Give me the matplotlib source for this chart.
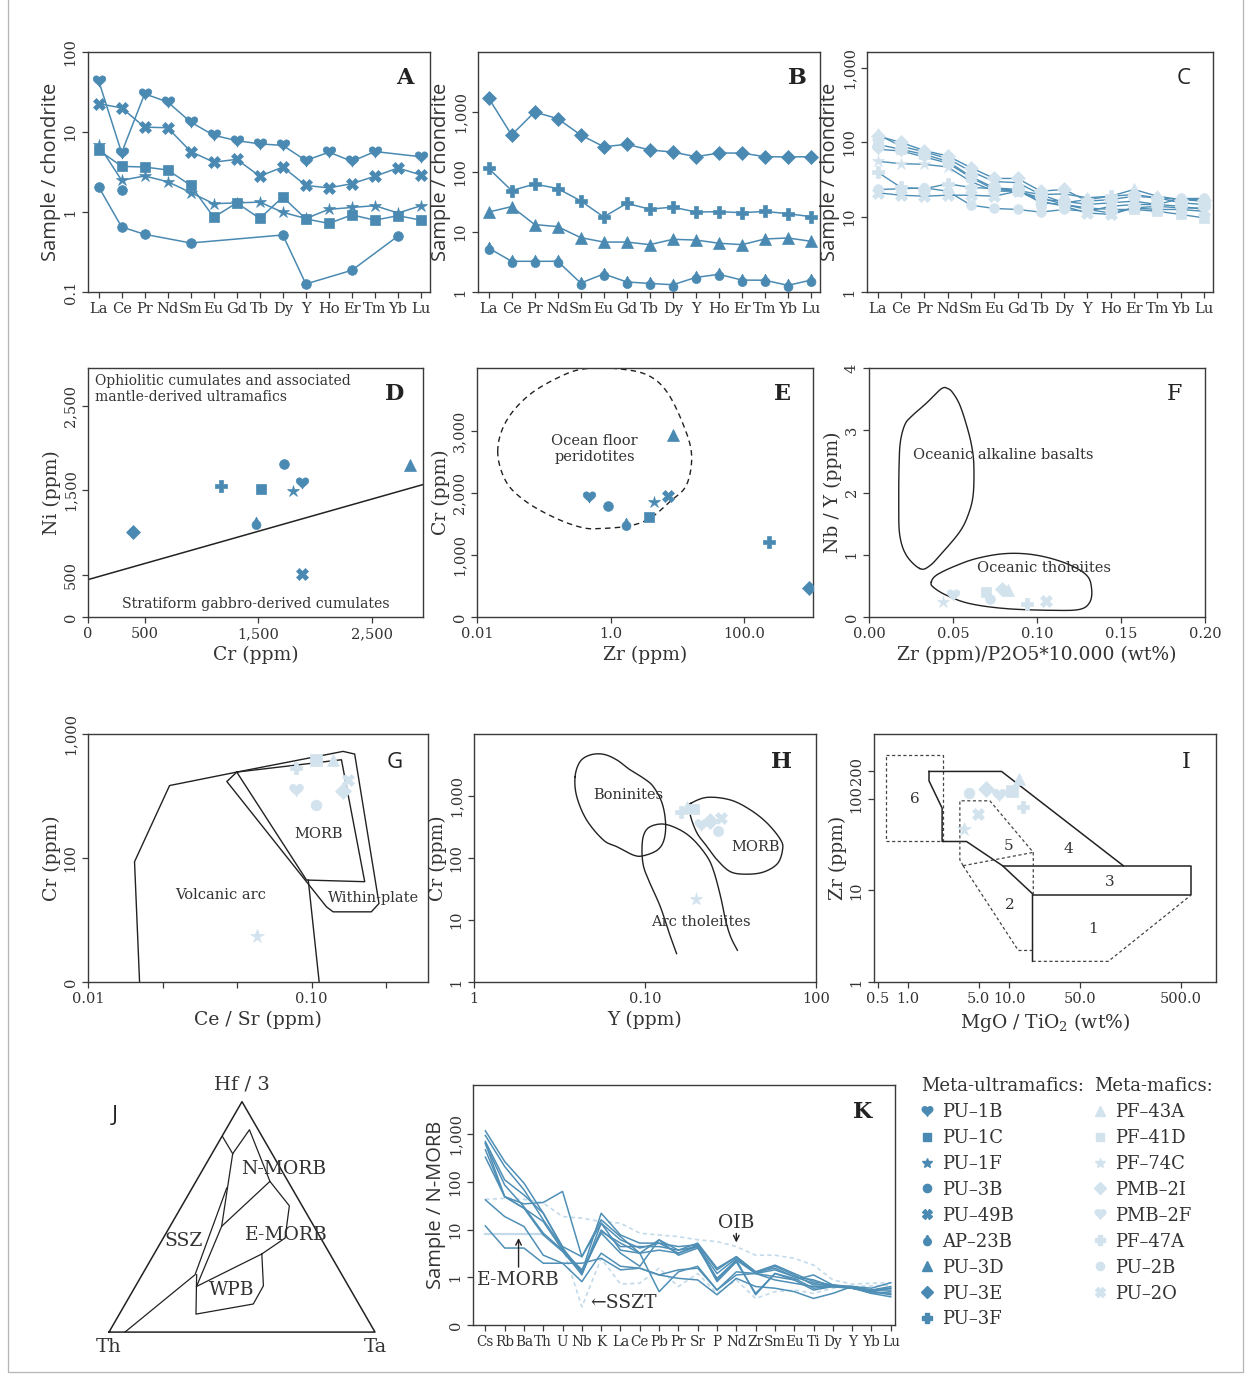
import numpy as np
import matplotlib
matplotlib.use('Agg')
import matplotlib.pyplot as plt
from matplotlib.lines import Line2D
from matplotlib.patches import Rectangle

nan = float('nan')

# ---------------- categories / names ----------------
REE = ['La', 'Ce', 'Pr', 'Nd', 'Sm', 'Eu', 'Gd', 'Tb', 'Dy', 'Y', 'Ho', 'Er', 'Tm', 'Yb', 'Lu']
SPIDER = ['Cs', 'Rb', 'Ba', 'Th', 'U', 'Nb', 'K', 'La', 'Ce', 'Pb', 'Pr', 'Sr', 'P', 'Nd',
          'Zr', 'Sm', 'Eu', 'Ti', 'Dy', 'Y', 'Yb', 'Lu']
UM_NAMES = ['PU–1B', 'PU–1C', 'PU–1F', 'PU–3B', 'PU–49B', 'AP–23B', 'PU–3D', 'PU–3E', 'PU–3F']
UM_MARKS = ['heart', 'square', 'star', 'circle', 'x', 'drop', 'triangle', 'diamond', 'plus']
MAF_NAMES = ['PF–43A', 'PF–41D', 'PF–74C', 'PMB–2I', 'PMB–2F', 'PF–47A', 'PU–2B', 'PU–2O']
MAF_MARKS = ['triangle', 'square', 'star', 'diamond', 'heart', 'plus', 'circle', 'x']

# ---------------- A: meta-ultramafics REE ----------------
A_PU1B = [44, 5.5, 30, 23.7, 13.3, 9.1, 7.8, 7.1, 6.8, 4.4, 5.6, 4.3, 5.7, nan, 4.9]
A_PU49B = [22.6, 20, 11.5, 11.3, 5.7, 4.2, 4.55, 2.8, 3.65, 2.15, 2.0, 2.26, 2.8, 3.55, 2.9]
A_PU1F = [6.9, 2.49, 2.82, 2.39, 1.75, 1.27, 1.30, 1.33, 0.99, 0.83, 1.08, 1.14, 1.2, 0.97, 1.2]
A_PU1C = [5.96, 3.72, 3.65, 3.35, 2.15, 0.86, 1.3, 0.83, 1.54, 0.82, 0.72, 0.92, 0.79, 0.9, 0.79]
A_PU3B = [2.07, 0.65, 0.526, nan, 0.41, nan, nan, nan, 0.516, 0.126, nan, 0.187, nan, 0.5, nan]
A_EXTRA = [nan, 1.87, nan, nan, nan, nan, nan, nan, nan, nan, nan, nan, nan, nan, nan]

# ---------------- B ----------------
B_PU3E = [1710, 414, 1000, 774, 414, 264, 289, 233, 215, 180, 207, 207, 180, 178, 180]
B_PU3F = [115, 49, 63, 53, 33, 17.8, 30, 24, 26, 21.5, 21.8, 21, 22, 20.2, 18]
B_PU3D = [21.5, 26.5, 13.3, 12.3, 8.05, 6.8, 6.8, 6.15, 7.55, 7.35, 6.5, 6.15, 7.65, 7.95, 7.0]
B_AP23B = [5.4, 3.25, 3.25, 3.25, 1.41, 2.0, 1.47, 1.39, 1.32, 1.75, 1.97, 1.58, 1.57, 1.29, 1.58]

# ---------------- C: meta-mafics REE ----------------
C_PF43A = [128, 89, 75, 61, 41, 30, 29, 20.1, 20.5, 18.2, 19.1, 23.5, 19.1, 17.2, 16.4]
C_PF41D = [94, 81, 69, 56, 35, 24.7, 23.5, 15.6, 14.8, 13.3, 12.7, 12.7, 12.0, 10.9, 9.8]
C_PF74C = [56, 52, 51, 47, 30, 22.3, 22.3, 17.2, 16.4, 14.8, 15.6, 16.4, 14.8, 14.0, 12.7]
C_PMB2I = [122, 100, 78, 66, 46, 33, 33, 22.3, 23.5, 16.4, 17.2, 19.1, 18.2, 17.2, 17.2]
C_PMB2F = [81, 77, 64, 53, 34, 23.5, 22.3, 18.2, 14.8, 12.7, 11.4, 13.3, 14.0, 13.3, 13.3]
C_PF47A = [40, 25, 24, 28, 25, 24.2, 22.8, 20.1, 15.6, 17.2, 19.1, 20.1, 18.2, 15.6, 14.8]
C_PU2B = [23.5, 24, 24.7, 22.3, 14.5, 13.1, 12.7, 11.7, 12.7, 12.0, 14.0, 14.8, 14.8, 17.8, 17.8]
C_PU2O = [21.2, 19.7, 19.1, 19.7, 19.7, 19.1, 22.3, 16.4, 14.0, 11.4, 10.9, 13.3, 12.7, 12.7, 12.0]

# ---------------- D: Cr vs Ni (ultramafics, UM order) ----------------
D_CR = [1888, 1521, 1806, 1726, 1888, 1476, 2835, 397, 1168]
D_NI = [1589, 1522, 1490, 1810, 506, 1115, 1806, 1008, 1549]
D_LINE_CR = [0, 2950]
D_LINE_NI = [443, 1569]

# ---------------- E: Zr vs Cr (ultramafics) ----------------
E_ZR = [0.48, 3.7, 4.4, 0.91, 7.1, 1.72, 8.4, 912, 229]
E_CR = [1943, 1608, 1862, 1797, 1959, 1495, 2941, 475, 1214]
E_FIELD_ZR = [0.0204, 0.0272, 0.061, 0.193, 0.431, 1.22, 3.43, 6.84, 12.2, 16.2, 13.6, 7.67,
              3.85, 1.93, 0.767, 0.385, 0.153, 0.0543, 0.0272]
E_FIELD_CR = [2671, 3157, 3589, 3902, 4010, 4010, 3913, 3643, 3103, 2617, 2132, 1862,
              1592, 1473, 1430, 1441, 1592, 1862, 2186]

# ---------------- F (mafics order) ----------------
F_X = [0.0828, 0.0699, 0.0441, 0.0789, 0.0500, 0.0942, 0.0719, 0.1053]
F_Y = [0.43, 0.403, 0.242, 0.456, 0.349, 0.215, 0.285, 0.252]
F_ALK_X = [0.0302, 0.0222, 0.0183, 0.0177, 0.0179, 0.0187, 0.0213, 0.0252, 0.0342, 0.0431,
           0.0471, 0.0500, 0.0540, 0.0580, 0.0610, 0.0624, 0.0620, 0.0590, 0.0540, 0.0441, 0.0361]
F_ALK_Y = [0.779, 0.993, 1.315, 1.799, 2.443, 2.819, 3.087, 3.221, 3.436, 3.667,
           3.667, 3.597, 3.409, 3.087, 2.765, 2.443, 1.960, 1.638, 1.369, 1.047, 0.821]
F_THO_X = [0.0371, 0.0401, 0.0500, 0.0640, 0.0818, 0.0997, 0.1176, 0.1295, 0.1325, 0.1315,
           0.1255, 0.1096, 0.0818, 0.0600, 0.0461, 0.0381]
F_THO_Y = [0.564, 0.671, 0.805, 0.940, 1.020, 0.993, 0.859, 0.671, 0.456, 0.242,
           0.123, 0.107, 0.134, 0.215, 0.349, 0.483]

# ---------------- G (mafics) ----------------
G_CESR = [0.1249, 0.1045, 0.0569, 0.1384, 0.0851, 0.0851, 0.1045, 0.146]
G_CR = [620, 620, 23.4, 348, 355, 531, 268, 428]
G_VA_X = [0.01701, 0.01615, 0.02317, 0.0463]
G_VA_Y = [10, 93.3, 384, 493]
G_WP_X = [0.0463, 0.1384, 0.156, 0.2004, 0.1852, 0.1249, 0.1166, 0.0418, 0.0463]
G_WP_Y = [493, 724, 689, 43.0, 36.8, 36.8, 40.4, 414, 493]
G_MORB_X = [0.0463, 0.1361, 0.173, 0.0950, 0.0463]
G_MORB_Y = [493, 620, 64.4, 66.4, 493]
G_VAR_X = [0.0967, 0.1082]
G_VAR_Y = [66.4, 10]

# ---------------- H (mafics) ----------------
H_Y = [17.7, 19.3, 19.8, 24.0, 21.3, 16.2, 26.7, 27.7]
H_CR = [671, 608, 21.7, 399, 340, 557, 275, 435]
H_BON_X = [3.90, 3.99, 4.56, 5.72, 6.85, 8.58, 9.82, 11.8, 12.9, 13.2, 12.6, 11.2, 9.82,
           8.20, 6.85, 5.72, 4.78, 4.17]
H_BON_Y = [2050, 975, 409, 194, 152, 111, 109, 134, 194, 361, 760, 1410, 1930,
           2630, 3810, 4710, 4590, 3580]
H_ARC_X = [15.3, 14.1, 12.3, 10.7, 9.82, 9.60, 9.82, 10.7, 12.9, 16.1, 19.3, 23.1, 25.3,
           27.7, 29.6, 31.7, 34.7]
H_ARC_Y = [2.87, 5.33, 16.3, 38.8, 72.1, 134, 234, 319, 352, 282, 194, 105, 59.8,
           23.6, 9.9, 5.33, 3.25]
H_MORB_X = [18.5, 23.1, 31.7, 41.5, 52.0, 62.3, 63.7, 59.6, 49.7, 39.7, 31.7, 26.5, 23.1,
            20.2, 18.5, 18.3]
H_MORB_Y = [760, 951, 861, 593, 361, 194, 134, 81.6, 59.8, 54.8, 59.8, 92.4, 152,
            249, 463, 671]

# ---------------- I (mafics) ----------------
I_MGTI = [12.5, 10.7, 3.59, 5.83, 7.9, 13.6, 3.99, 4.86]
I_ZR = [165, 123, 47, 129, 111, 80.4, 115, 68]
I_F6_X = [0.610, 2.22, 2.22, 0.610, 0.610]
I_F6_Y = [302, 302, 34.8, 34.8, 302]
I_F4_X = [1.61, 8.40, 134.5]
I_F4_Y = [199, 199, 18.6]
I_LEFT_X = [1.61, 1.61, 2.17, 2.17, 3.78, 8.59, 17.0, 17.0]
I_LEFT_Y = [199, 157, 79.1, 34.2, 34.2, 18.6, 9.20, 1.68]
I_F3_X = [8.59, 624, 624, 17.0]
I_F3_Y = [18.6, 18.6, 8.82, 8.82]
I_F1_X = [17.0, 95.5, 624]
I_F1_Y = [1.68, 1.68, 8.82]
I_F5_X = [3.50, 3.25, 3.25, 6.44, 17.3, 17.3]
I_F5_Y = [18.6, 21.6, 95.1, 95.1, 26.0, 8.97]
I_F52_X = [3.50, 17.3]
I_F52_Y = [18.6, 26.0]
I_F2_X = [3.50, 12.3, 17.0]
I_F2_Y = [18.6, 2.21, 2.21]

# ---------------- J ternary field lines (Th, Hf/3, Ta) ----------------
J_LINES = [
    [(0.149, 0.849, 0.002), (0.148, 0.774, 0.078)],
    [(0.148, 0.774, 0.078), (0.033, 0.878, 0.089), (0.068, 0.654, 0.278), (0.048, 0.548, 0.404),
     (0.134, 0.408, 0.458), (0.256, 0.339, 0.405)],
    [(0.148, 0.774, 0.078), (0.347, 0.459, 0.194)],
    [(0.068, 0.654, 0.278), (0.347, 0.459, 0.194), (0.572, 0.198, 0.230)],
    [(0.245, 0.625, 0.130), (0.552, 0.249, 0.199), (0.940, 0.0, 0.060)],
    [(0.572, 0.198, 0.230), (0.256, 0.339, 0.405)],
    [(0.256, 0.339, 0.405), (0.319, 0.201, 0.480), (0.397, 0.122, 0.482), (0.634, 0.078, 0.288),
     (0.546, 0.249, 0.205)],
]

# ---------------- K: N-MORB normalised spider (meta-mafics) ----------------
K_S1 = [1175, 267, 94, 22, 4.4, 2.7, 16, 7.1, 3.2, 6.1, 3.7, 5.2, 1.55, 2.7, 1.3, 1.8, 1.2, 0.81, 0.69, 0.64, 0.59, 0.77]
K_S2 = [938, 210, 68, 16, 4.1, 1.3, 22, 7.7, 5.2, 5.2, 4.4, 4.8, 1.43, 2.7, 1.3, 1.55, 1.03, 0.88, 0.64, 0.64, 0.54, 0.64]
K_S3 = [702, 110, 53, 22, 4.1, 1.2, 9.8, 4.4, 4.4, 4.4, 3.7, 4.4, 1.2, 2.5, 1.2, 1.7, 1.12, 0.69, 0.69, 0.59, 0.50, 0.59]
K_S4 = [627, 86, 30, 8.4, 3.7, 1.12, 13.6, 6.1, 4.1, 5.2, 3.2, 4.8, 0.88, 2.3, 1.2, 1.43, 1.03, 0.75, 0.64, 0.59, 0.54, 0.54]
K_S5 = [469, 49, 28, 7.7, 3.45, 1.2, 9.1, 5.2, 3.2, 3.7, 3.2, 4.4, 0.81, 2.1, 0.46, 1.2, 0.95, 0.59, 0.64, 0.59, 0.46, 0.50]
K_S6 = [329, 49, 28, 14.7, 3.7, 1.43, 8.4, 3.2, 1.7, 6.1, 2.9, 4.1, 0.95, 2.3, 0.43, 1.2, 0.88, 0.54, 0.64, 0.64, 0.50, 0.46]
K_S7 = [647, 49, 34.5, 37, 63, 2.7, 13.6, 3.7, 3.2, 0.50, 1.3, 1.7, 0.54, 1.12, 1.2, 1.03, 0.88, 1.12, 0.69, 0.59, 0.54, 0.59]
K_S8 = [42, 18.7, 11.6, 2.9, 1.97, 0.81, 3.2, 1.7, 1.55, 1.12, 0.95, 0.88, 0.43, 0.95, 0.64, 0.59, 0.50, 0.36, 0.46, 0.64, 0.46, 0.39]
K_S9 = [11.9, 4.1, 4.1, 1.97, 1.97, 1.97, 2.5, 1.43, 1.55, 1.12, 1.43, 1.55, 0.54, 1.3, 1.2, 0.88, 0.75, 0.64, 0.64, 0.59, 0.50, 0.43]
K_OIB = [43, 45, 43, 36, 18.7, 17.3, 14.7, 13.6, 8.4, 7.7, 7.1, 6.1, 5.6, 4.4, 2.9, 2.9, 2.5, 1.8, 0.88, 0.72, 0.75, 0.77]
K_EMORB = [8.1, 8.1, 8.1, 8.1, nan, nan, nan, nan, nan, nan, nan, nan, nan, nan, nan, nan, nan, nan, nan, nan, nan, nan]
K_SSZT = [nan, nan, nan, nan, 4.4, 0.24, 2.5, 0.72, 0.75, 1.55, 0.64, 1.2, 0.46, 0.88, 0.36, 0.50, 0.54, 0.46, 0.59, 0.64, 0.66, 0.69]

# ---------------- styling ----------------
W, H = 1250, 1376
DARK = '#4a8ab2'
LIGHT = '#d3e3ee'
LINEC = '#4f8fb6'
REFC = '#c3daea'
INK = '#333333'
SERIF = 'DejaVu Serif'
SANS = 'Open Sans'

plt.rcParams['font.family'] = [SERIF, 'DejaVu Sans']
plt.rcParams['mathtext.fontset'] = 'dejavuserif'
plt.rcParams['text.color'] = INK
plt.rcParams['axes.labelcolor'] = INK

_t = np.linspace(0, 2 * np.pi, 60)
HEART = list(zip(16 * np.sin(_t) ** 3,
                 13 * np.cos(_t) - 5 * np.cos(2 * _t) - 2 * np.cos(3 * _t) - np.cos(4 * _t) + 2.5))
_a = np.deg2rad(np.linspace(60, -240, 40))
DROP = [(0, 1.75)] + list(zip(np.cos(_a), np.sin(_a))) + [(0, 1.75)]
DROP = [(x, y - 0.35) for x, y in DROP]

MK = {'heart': HEART, 'square': 's', 'star': '*', 'circle': 'o', 'x': 'X',
      'drop': DROP, 'triangle': '^', 'diamond': 'D', 'plus': 'P'}
MS = {'heart': 9, 'square': 7.5, 'star': 9, 'circle': 7, 'x': 8, 'drop': 9,
      'triangle': 8.5, 'diamond': 7.5, 'plus': 8.5}

fig = plt.figure(figsize=(W / 100, H / 100), dpi=100)
fig.patch.set_facecolor('white')
fig.add_artist(Rectangle((8 / W, 4 / H), (1243 - 8) / W, 1.2, transform=fig.transFigure,
                         fill=False, edgecolor='#b5b5b5', lw=0.9))


def pos(l, t, r, b):
    return [l / W, 1 - b / H, (r - l) / W, (b - t) / H]


def style(ax, fs=10.5):
    for s in ax.spines.values():
        s.set_color('#3a3a3a')
        s.set_linewidth(1.0)
    ax.tick_params(direction='out', length=4, width=0.9, color='#3a3a3a',
                   labelcolor=INK, labelsize=fs)
    ax.minorticks_off()


def yrot(ax):
    for lb in ax.get_yticklabels():
        lb.set_rotation(90)
        lb.set_va('center')
        lb.set_ha('right')


def letter(ax, s, x, y, bold=True, fam=SERIF):
    ax.text(x, y, s, transform=ax.transAxes, ha='center', va='center', fontsize=16,
            fontweight='bold' if bold else 'normal', family=fam, color='#222222')


def catmull(px, py, closed=True, n=16):
    P = np.column_stack([px, py]).astype(float)
    if closed:
        P = np.vstack([P[-1], P, P[0], P[1]])
    else:
        P = np.vstack([P[0], P, P[-1]])
    out = []
    t = np.linspace(0, 1, n, endpoint=False)[:, None]
    for i in range(1, len(P) - 2):
        p0, p1, p2, p3 = P[i - 1], P[i], P[i + 1], P[i + 2]
        seg = 0.5 * ((2 * p1) + (-p0 + p2) * t + (2 * p0 - 5 * p1 + 4 * p2 - p3) * t ** 2
                     + (-p0 + 3 * p1 - 3 * p2 + p3) * t ** 3)
        out.append(seg)
    out.append(P[-2][None])
    return np.vstack(out)


def marker_plot(ax, x, y, m, color, scale=1.0, z=3):
    ax.plot(x, y, ls='none', marker=MK[m], ms=MS[m] * scale, mfc=color, mec=color,
            mew=0.5, zorder=z)


def ree_panel(ax, series, marks, lc, mc, lw=1.1):
    x = np.arange(len(REE))
    for vals, m in zip(series, marks):
        v = np.array(vals, float)
        ok = ~np.isnan(v)
        ax.plot(x[ok], v[ok], color=lc, lw=lw, zorder=2)
    for vals, m in zip(series, marks):
        v = np.array(vals, float)
        ok = ~np.isnan(v)
        marker_plot(ax, x[ok], v[ok], m, mc)
    ax.set_yscale('log')
    ax.set_xlim(-0.46, 14.39)
    ax.set_xticks(x, REE)
    style(ax)
    ax.set_ylabel('Sample / chondrite', family=SANS, fontsize=14.5, labelpad=2)


# ---------- A ----------
axA = fig.add_axes(pos(88, 52, 430, 292))
ree_panel(axA, [A_PU1B, A_PU49B, A_PU1F, A_PU1C, A_PU3B],
          ['heart', 'x', 'star', 'square', 'circle'], DARK, DARK)
marker_plot(axA, np.arange(len(REE)), A_EXTRA, 'circle', DARK)
axA.set_ylim(0.1, 100)
axA.set_yticks([0.1, 1, 10, 100], ['0.1', '1', '10', '100'])
yrot(axA)
letter(axA, 'A', 0.927, 0.89)

# ---------- B ----------
axB = fig.add_axes(pos(478, 52, 820, 292))
ree_panel(axB, [B_PU3E, B_PU3F, B_PU3D, B_AP23B],
          ['diamond', 'plus', 'triangle', 'drop'], DARK, DARK)
axB.set_ylim(1, 10000)
axB.set_yticks([1, 10, 100, 1000], ['1', '10', '100', '1,000'])
axB.minorticks_off()
yrot(axB)
letter(axB, 'B', 0.933, 0.89)

# ---------- C ----------
axC = fig.add_axes(pos(867, 52, 1213, 292))
ree_panel(axC, [C_PF43A, C_PF41D, C_PF74C, C_PMB2I, C_PMB2F, C_PF47A, C_PU2B, C_PU2O],
          MAF_MARKS, LINEC, LIGHT, lw=1.0)
axC.set_ylim(1, 1620)
axC.set_yticks([1, 10, 100, 1000], ['1', '10', '100', '1,000'])
axC.minorticks_off()
yrot(axC)
letter(axC, 'C', 0.916, 0.89, bold=False, fam=SANS)

# ---------- D ----------
axD = fig.add_axes(pos(88, 368, 423, 617))
axD.plot(D_LINE_CR, D_LINE_NI, color='#222222', lw=1.1)
for xv, yv, m in zip(D_CR, D_NI, UM_MARKS):
    marker_plot(axD, [xv], [yv], m, DARK)
axD.set_xlim(0, 2950)
axD.set_ylim(0, 2950)
style(axD)
axD.set_xticks([0, 500, 1500, 2500], ['0', '500', '1,500', '2,500'])
axD.set_yticks([0, 500, 1500, 2500], ['0', '500', '1,500', '2,500'])
yrot(axD)
axD.set_xlabel('Cr (ppm)', fontsize=13.5, labelpad=3)
axD.set_ylabel('Ni (ppm)', fontsize=13.5, labelpad=2)
axD.text(0.02, 0.975, 'Ophiolitic cumulates and associated\nmantle-derived ultramafics',
         transform=axD.transAxes, ha='left', va='top', fontsize=10, linespacing=1.15)
axD.text(0.5, 0.052, 'Stratiform gabbro-derived cumulates', transform=axD.transAxes,
         ha='center', va='center', fontsize=10.2)
letter(axD, 'D', 0.916, 0.895)

# ---------- E ----------
axE = fig.add_axes(pos(477, 368, 813, 617))
axE.set_xscale('log')
lx = np.log10(E_FIELD_ZR)
cur = catmull(lx, E_FIELD_CR, closed=True)
axE.plot(10 ** cur[:, 0], cur[:, 1], color='#222222', lw=1.0, ls=(0, (4, 3)))
for xv, yv, m in zip(E_ZR, E_CR, UM_MARKS):
    marker_plot(axE, [xv], [yv], m, DARK)
axE.set_xlim(0.01, 1060)
axE.set_ylim(0, 4020)
style(axE)
axE.set_xticks([0.01, 1, 100], ['0.01', '1.0', '100.0'])
axE.set_yticks([0, 1000, 2000, 3000], ['0', '1,000', '2,000', '3,000'])
axE.minorticks_off()
yrot(axE)
axE.set_xlabel('Zr (ppm)', fontsize=13.5, labelpad=3)
axE.set_ylabel('Cr (ppm)', fontsize=13.5, labelpad=2)
axE.text(0.575, 2715, 'Ocean floor\nperidotites', ha='center', va='center', fontsize=10.5,
         linespacing=1.2)
letter(axE, 'E', 0.91, 0.895)

# ---------- F ----------
axF = fig.add_axes(pos(869, 368, 1205, 617))
c1 = catmull(F_ALK_X, F_ALK_Y)
c2 = catmull(F_THO_X, F_THO_Y)
axF.plot(c1[:, 0], c1[:, 1], color='#222222', lw=1.0)
axF.plot(c2[:, 0], c2[:, 1], color='#222222', lw=1.0)
for xv, yv, m in zip(F_X, F_Y, MAF_MARKS):
    marker_plot(axF, [xv], [yv], m, LIGHT)
axF.set_xlim(0, 0.2)
axF.set_ylim(0, 4)
style(axF)
axF.set_xticks([0, 0.05, 0.1, 0.15, 0.2], ['0.00', '0.05', '0.10', '0.15', '0.20'])
axF.set_yticks([0, 1, 2, 3, 4], ['0', '1', '2', '3', '4'])
yrot(axF)
axF.set_xlabel('Zr (ppm)/P2O5*10.000 (wt%)', fontsize=13.5, labelpad=3)
axF.set_ylabel('Nb / Y (ppm)', fontsize=13.5, labelpad=2)
axF.text(0.0262, 2.6, 'Oceanic alkaline basalts', ha='left', va='center', fontsize=10.5)
axF.text(0.064, 0.78, 'Oceanic tholeiites', ha='left', va='center', fontsize=10.5)
letter(axF, 'F', 0.91, 0.895, bold=False)

# ---------- G ----------
axG = fig.add_axes(pos(88, 734, 428, 982))
axG.set_xscale('log')
axG.set_yscale('log')
for xs, ys in [(G_VA_X, G_VA_Y), (G_WP_X, G_WP_Y), (G_MORB_X, G_MORB_Y), (G_VAR_X, G_VAR_Y)]:
    axG.plot(xs, ys, color='#222222', lw=1.0)
for xv, yv, m in zip(G_CESR, G_CR, MAF_MARKS):
    marker_plot(axG, [xv], [yv], m, LIGHT, scale=1.1)
axG.set_xlim(0.01, 0.332)
axG.set_ylim(10, 1000)
style(axG)
axG.set_xticks([0.01, 10 ** (-5 / 3), 10 ** (-4 / 3), 0.1, 10 ** (-2 / 3)],
               ['0.01', '', '', '0.10', ''])
axG.set_yticks([10, 100, 1000], ['0', '100', '1,000'])
axG.minorticks_off()
yrot(axG)
axG.set_xlabel('Ce / Sr (ppm)', fontsize=13.5, labelpad=3)
axG.set_ylabel('Cr (ppm)', fontsize=13.5, labelpad=2)
axG.text(0.107, 156, 'MORB', ha='center', va='center', fontsize=10.5)
axG.text(0.039, 50, 'Volcanic arc', ha='center', va='center', fontsize=10.5)
axG.text(0.19, 48, 'Within-plate', ha='center', va='center', fontsize=10.5)
letter(axG, 'G', 0.903, 0.887, bold=False, fam=SANS)

# ---------- H ----------
axH = fig.add_axes(pos(474, 734, 816, 982))
axH.set_xscale('log')
axH.set_yscale('log')
for xs, ys, cl in [(H_BON_X, H_BON_Y, True), (H_MORB_X, H_MORB_Y, True), (H_ARC_X, H_ARC_Y, False)]:
    cc = catmull(np.log10(xs), np.log10(ys), closed=cl)
    axH.plot(10 ** cc[:, 0], 10 ** cc[:, 1], color='#222222', lw=1.0)
for xv, yv, m in zip(H_Y, H_CR, MAF_MARKS):
    marker_plot(axH, [xv], [yv], m, LIGHT, scale=1.05)
axH.set_xlim(1, 100)
axH.set_ylim(1, 10000)
style(axH)
axH.set_xticks([1, 10, 100], ['1', '0.10', '100'])
axH.set_yticks([1, 10, 100, 1000], ['1', '10', '100', '1,000'])
axH.minorticks_off()
yrot(axH)
axH.set_xlabel('Y (ppm)', fontsize=13.5, labelpad=3)
axH.set_ylabel('Cr (ppm)', fontsize=13.5, labelpad=2)
axH.text(8.0, 1040, 'Boninites', ha='center', va='center', fontsize=10.5)
axH.text(44.4, 148, 'MORB', ha='center', va='center', fontsize=10.5)
axH.text(21.1, 9.3, 'Arc tholeiites', ha='center', va='center', fontsize=10.5)
letter(axH, 'H', 0.90, 0.887)

# ---------- I ----------
axI = fig.add_axes(pos(874, 734, 1216, 982))
axI.set_xscale('log')
axI.set_yscale('log')
for xs, ys, ls in [(I_F6_X, I_F6_Y, ':'), (I_F4_X, I_F4_Y, '-'), (I_LEFT_X, I_LEFT_Y, '-'),
                   (I_F3_X, I_F3_Y, '-'), (I_F1_X, I_F1_Y, ':'), (I_F5_X, I_F5_Y, ':'),
                   (I_F52_X, I_F52_Y, ':'), (I_F2_X, I_F2_Y, ':')]:
    if ls == '-':
        axI.plot(xs, ys, color='#222222', lw=1.1)
    else:
        axI.plot(xs, ys, color='#444444', lw=0.9, ls=(0, (2.5, 2)))
for xv, yv, m in zip(I_MGTI, I_ZR, MAF_MARKS):
    marker_plot(axI, [xv], [yv], m, LIGHT, scale=1.1)
for s, xv, yv in [('6', 1.16, 99), ('5', 9.77, 30.7), ('4', 38.4, 28.2), ('3', 99.3, 12.5),
                  ('2', 10.2, 6.98), ('1', 67.9, 3.82)]:
    axI.text(xv, yv, s, ha='center', va='center', fontsize=11)
axI.set_xlim(0.46, 1110)
axI.set_ylim(1, 510)
style(axI)
axI.set_xticks([0.5, 1, 5, 10, 50, 500], ['0.5', '1.0', '5.0', '10.0', '50.0', '500.0'])
axI.set_yticks([1, 10, 100, 200], ['1', '10', '100', '200'])
axI.minorticks_off()
yrot(axI)
axI.set_xlabel('MgO / TiO$_2$ (wt%)', fontsize=13.5, labelpad=3)
axI.set_ylabel('Zr (ppm)', fontsize=13.5, labelpad=2)
letter(axI, 'I', 0.912, 0.887, bold=False)

# ---------- J (ternary) ----------
axJ = fig.add_axes(pos(42.5, 1052.7, 441.5, 1372))
axJ.set_xlim(-0.25, 1.25)
axJ.set_ylim(-0.15, 1.05)
axJ.axis('off')
S3 = np.sqrt(3) / 2


def tern(pts):
    a = np.array(pts, float)
    th, hf, ta = a[:, 0], a[:, 1], a[:, 2]
    s = th + hf + ta
    return (ta + 0.5 * hf) / s, S3 * hf / s


axJ.plot([0, 1, 0.5, 0], [0, 0, S3, 0], color='#222222', lw=1.1)
for ln in J_LINES:
    xs, ys = tern(ln)
    axJ.plot(xs, ys, color='#222222', lw=0.9)
for s, xv, yv in [('N-MORB', 0.655, 0.614), ('SSZ', 0.279, 0.341), ('E-MORB', 0.668, 0.363),
                  ('WPB', 0.461, 0.157)]:
    axJ.text(xv, yv, s, ha='center', va='center', fontsize=13.5)
axJ.text(0.501, 0.93, 'Hf / 3', ha='center', va='center', fontsize=14)
axJ.text(0.0, -0.055, 'Th', ha='center', va='center', fontsize=14)
axJ.text(1.0, -0.055, 'Ta', ha='center', va='center', fontsize=14)
axJ.text(0.02, 0.815, 'J', ha='center', va='center', fontsize=16, family=SANS, color='#222222')

# ---------- K ----------
axK = fig.add_axes(pos(473, 1085, 895, 1325))
axK.set_yscale('log')
xk = np.arange(len(SPIDER))


def kplot(vals, **kw):
    v = np.array(vals, float)
    ok = ~np.isnan(v)
    axK.plot(xk[ok], v[ok], **kw)


kplot(K_OIB, color=REFC, lw=1.2, ls=(0, (2.5, 2)), zorder=1)
kplot(K_SSZT, color=REFC, lw=1.2, ls=(0, (2.5, 2)), zorder=1)
kplot(K_EMORB, color=REFC, lw=1.6, zorder=1)
for s in [K_S1, K_S2, K_S3, K_S4, K_S5, K_S6, K_S7, K_S8, K_S9]:
    kplot(s, color=LINEC, lw=1.1, zorder=2)
axK.set_xlim(-0.64, 21.22)
axK.set_ylim(0.1, 10700)
style(axK, fs=9.8)
axK.set_xticks(xk, SPIDER)
axK.set_yticks([0.1, 1, 10, 100, 1000], ['0', '1', '10', '100', '1,000'])
axK.minorticks_off()
axK.tick_params(axis='y', labelsize=10.5)
yrot(axK)
axK.set_ylabel('Sample / N-MORB', family=SANS, fontsize=14.5, labelpad=2)
axK.annotate('', xy=(13, 4.7), xytext=(13, 9.5),
             arrowprops=dict(arrowstyle='->', color='#222222', lw=1.0))
axK.text(13, 14, 'OIB', ha='center', va='center', fontsize=13.5)
axK.annotate('', xy=(1.72, 7.6), xytext=(1.72, 1.43),
             arrowprops=dict(arrowstyle='->', color='#222222', lw=1.0))
axK.text(1.69, 0.86, 'E-MORB', ha='center', va='center', fontsize=13.5)
axK.text(5.45, 0.29, '←SSZT', ha='left', va='center', fontsize=13.5,
         family=[SERIF, 'DejaVu Sans'])
letter(axK, 'K', 0.924, 0.888)

# ---------- legends ----------
h_um = [Line2D([], [], ls='none', marker=MK[m], ms=MS[m] * 0.85, mfc=DARK, mec=DARK, label=n)
        for n, m in zip(UM_NAMES, UM_MARKS)]
h_maf = [Line2D([], [], ls='none', marker=MK[m], ms=MS[m] * 0.85, mfc=LIGHT, mec=LIGHT, label=n)
         for n, m in zip(MAF_NAMES, MAF_MARKS)]
common = dict(loc='upper left', frameon=False, prop={'family': SERIF, 'size': 13},
              title_fontproperties={'family': SERIF, 'size': 13}, alignment='left',
              handlelength=0.7, handletextpad=0.45, labelspacing=0.44, borderaxespad=0,
              borderpad=0, labelcolor=INK)
fig.legend(handles=h_um, title='Meta-ultramafics:', bbox_to_anchor=(921 / W, 1 - 1077 / H), **common)
fig.legend(handles=h_maf, title='Meta-mafics:', bbox_to_anchor=(1094 / W, 1 - 1077 / H), **common)

fig.savefig('out.png', dpi=100, facecolor='white')
